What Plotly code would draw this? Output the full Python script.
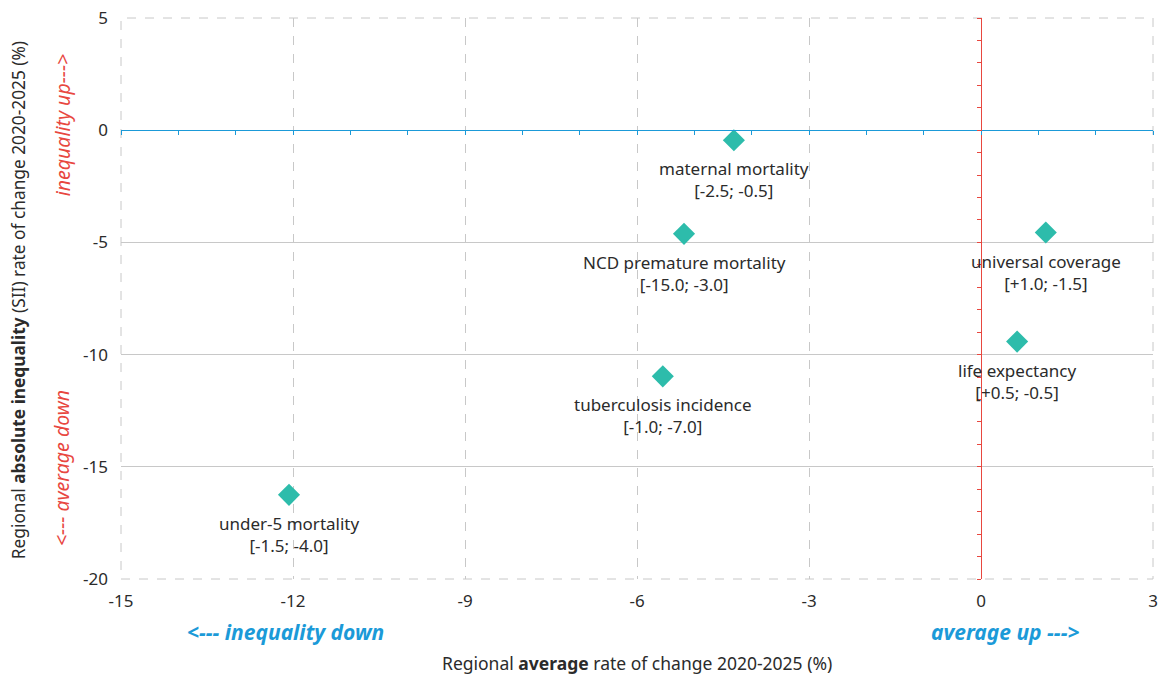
import plotly.graph_objects as go

# ---- data ----
names = ["maternal mortality", "NCD premature mortality", "universal coverage",
         "life expectancy", "tuberculosis incidence", "under-5 mortality"]
ranges = ["[-2.5; -0.5]", "[-15.0; -3.0]", "[+1.0; -1.5]",
          "[+0.5; -0.5]", "[-1.0; -7.0]", "[-1.5; -4.0]"]
x_avg = [-4.31, -5.18, 1.13, 0.63, -5.55, -12.07]
y_sii = [-0.45, -4.62, -4.56, -9.42, -10.97, -16.25]

x_ticks = [-15, -12, -9, -6, -3, 0, 3]
x_ticktext = ["-15", "-12", "-9", "-6", "-3", "0", "3"]
y_ticks = [5, 0, -5, -10, -15, -20]
y_ticktext = ["5", "0", "-5", "-10", "-15", "-20"]
x_range = [-15, 3]
y_range = [-20, 5]

FONT = "Noto Sans"
TEAL = "#2dbcab"
RED = "#e8473f"
BLUE = "#1b9ad8"
GRID = "#c8c8c8"
TXT = "#2b2b2b"

fig = go.Figure()

fig.add_trace(go.Scatter(
    x=x_avg, y=y_sii, mode="markers",
    marker=dict(symbol="diamond", size=17, color=TEAL, line=dict(width=0)),
    showlegend=False, hoverinfo="skip"))

# invisible trace to instantiate overlay axes (axis lines at zero with ticks)
fig.add_trace(go.Scatter(x=[x_range[0]], y=[y_range[0]], xaxis="x2", yaxis="y2",
                         mode="markers", marker=dict(opacity=0), showlegend=False,
                         hoverinfo="skip"))

for n, r, xv, yv in zip(names, ranges, x_avg, y_sii):
    fig.add_annotation(x=xv, y=yv, xref="x", yref="y", text=f"{n}<br>{r}",
                       showarrow=False, xanchor="center", yanchor="top", yshift=-15,
                       font=dict(family=FONT, size=17, color=TXT), align="center")

fig.update_layout(
    width=1163, height=679,
    margin=dict(l=121, r=10, t=18, b=100, autoexpand=False),
    paper_bgcolor="white", plot_bgcolor="white",
    font=dict(family=FONT, size=16, color=TXT),
    xaxis=dict(range=x_range, tickvals=x_ticks, ticktext=x_ticktext, showgrid=True,
               gridcolor=GRID, griddash="dash", gridwidth=1, zeroline=False,
               showline=False, ticks="", ticklabelstandoff=10, automargin=False,
               ticklabeloverflow="allow", tickfont=dict(size=17, color=TXT)),
    yaxis=dict(range=y_range, tickvals=y_ticks, ticktext=y_ticktext, showgrid=True,
               gridcolor=GRID, griddash="dash", gridwidth=1, zeroline=False,
               showline=False, ticks="", ticklabelstandoff=12, automargin=False,
               ticklabeloverflow="allow", tickfont=dict(size=17, color=TXT),
               minor=dict(tickvals=[-5, -10, -15], showgrid=True, gridcolor=GRID,
                          griddash="solid", gridwidth=1)),
    xaxis2=dict(overlaying="x", anchor="free", position=(0 - y_range[0]) / (y_range[1] - y_range[0]),
                range=x_range, dtick=1, tick0=0, showgrid=False, zeroline=False,
                showline=True, linecolor=BLUE, linewidth=1.2, ticks="outside",
                ticklen=4, tickcolor=BLUE, showticklabels=False, side="bottom",
                automargin=False),
    yaxis2=dict(overlaying="y", anchor="free", position=(0 - x_range[0]) / (x_range[1] - x_range[0]),
                range=y_range, dtick=1, tick0=0, showgrid=False, zeroline=False,
                showline=True, linecolor=RED, linewidth=1.2, ticks="outside",
                ticklen=4, tickcolor=RED, showticklabels=False, side="left",
                automargin=False),
)

# dashed plot-area border
fig.add_shape(type="rect", xref="x domain", yref="y domain", x0=0, x1=1, y0=0, y1=1,
              line=dict(color=GRID, width=1, dash="dash"), layer="below")

# axis titles and direction hints
def note(x, y, text, size, color, angle=0):
    fig.add_annotation(xref="paper", yref="paper", x=x, y=y, showarrow=False,
                       xanchor="center", yanchor="middle", textangle=angle,
                       text=text, font=dict(family=FONT, size=size, color=color))

note(0.5, -0.15, "Regional <b>average</b> rate of change 2020-2025 (%)", 17.5, TXT)
note(-0.0998, 0.497, "Regional <b>absolute inequality</b> (SII) rate of change 2020-2025 (%)", 17.3, TXT, -90)
note(-0.057, 0.809, "<i>inequality up---></i>", 19.5, RED, -90)
note(-0.057, 0.198, "<i><--- average down</i>", 19.5, RED, -90)
note(0.159, -0.0945, "<b><i><--- inequality down</i></b>", 21, BLUE)
note(0.857, -0.0945, "<b><i>average up ---></i></b>", 21, BLUE)

# remove the default page margin so the figure fills the window exactly
fig.write_html("out.html", config={"displayModeBar": False},
               post_script="document.body.style.margin='0';document.body.style.overflow='hidden';")
